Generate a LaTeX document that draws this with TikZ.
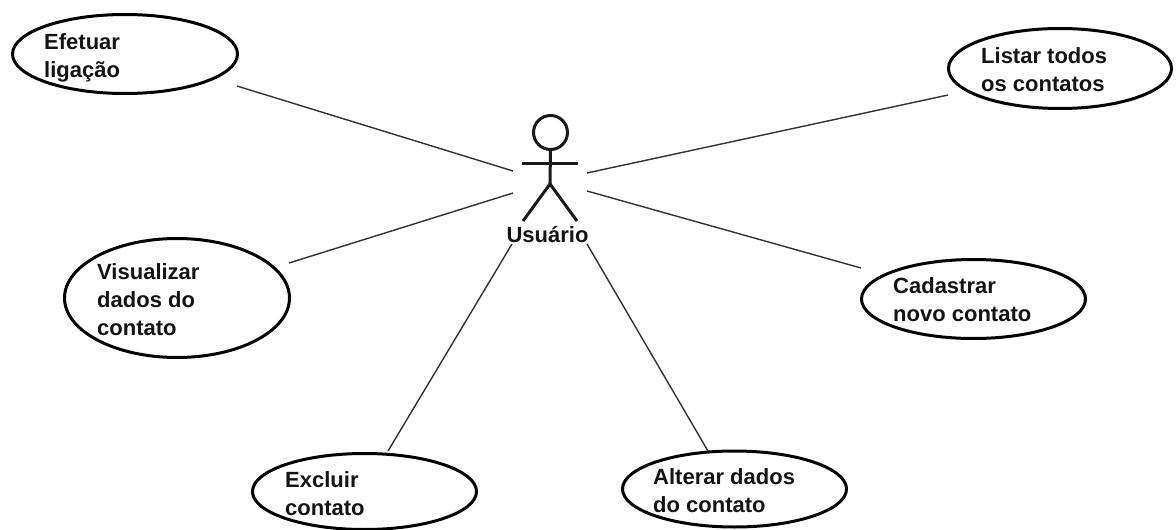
\documentclass[tikz,border=0pt]{standalone}
\usepackage{fontspec}
\setmainfont{Liberation Sans}
\usetikzlibrary{shapes.geometric}
\tikzset{
 usecase/.style={ellipse,draw=black,line width=3pt,inner sep=0pt,outer sep=0pt},
 lbl/.style={font=\fontsize{22pt}{28pt}\selectfont\bfseries,align=left,anchor=north west,inner sep=0pt,text=black!92},
 assoc/.style={draw=black!80,line width=1.4pt},
 actor/.style={draw=black!90,line width=3pt}
}
\begin{document}
\begin{tikzpicture}[x=1pt,y=-1pt]
\useasboundingbox (0,0) rectangle (1176,530);
\node[usecase,minimum width=225pt,minimum height=79pt] (efetuar) at (125,54) {};
\node[usecase,minimum width=223pt,minimum height=80pt] (listar) at (1060,68.5) {};
\node[usecase,minimum width=225pt,minimum height=119pt] (visualizar) at (177,298) {};
\node[usecase,minimum width=224pt,minimum height=79pt] (cadastrar) at (973.5,299) {};
\node[usecase,minimum width=224pt,minimum height=76pt] (excluir) at (364.5,491.5) {};
\node[usecase,minimum width=224pt,minimum height=76pt] (alterar) at (734.5,489) {};
\node[lbl] (t1) at (44,33) {Efetuar\\ligação};
\node[lbl] (t2) at (981,47) {Listar todos\\os contatos};
\node[lbl] (t3) at (97,263) {Visualizar\\dados do\\contato};
\node[lbl] (t4) at (893,277) {Cadastrar\\novo contato};
\node[lbl] (t5) at (285,471) {Excluir\\contato};
\node[lbl] (t6) at (653,468) {Alterar dados\\do contato};
\node[draw=black!90,circle,line width=3pt,inner sep=0pt,outer sep=0pt,minimum size=34pt] (head) at (550.5,132.5) {};
\coordinate (hip) at (550,184);
\coordinate (armL) at (522,163);
\coordinate (armR) at (578,163);
\coordinate (footL) at (523,221);
\coordinate (footR) at (577,221);
\draw[actor] (head.south) -- (hip);
\draw[actor] (armL) -- (armR);
\draw[actor] (footL) -- (hip) -- (footR);
\node[lbl,anchor=center] (usuario) at (547.5,235) {Usuário};
\coordinate (a1) at (513,171);
\coordinate (e1) at (237,86);
\coordinate (a2) at (587,173);
\coordinate (e2) at (948,95);
\coordinate (a3) at (513,193);
\coordinate (e3) at (289,263);
\coordinate (a4) at (587,191);
\coordinate (e4) at (861,268);
\coordinate (a5) at (512,244);
\coordinate (e5) at (388,451);
\coordinate (a6) at (587,244);
\coordinate (e6) at (708,451);
\draw[assoc] (a1)--(e1);
\draw[assoc] (a2)--(e2);
\draw[assoc] (a3)--(e3);
\draw[assoc] (a4)--(e4);
\draw[assoc] (a5)--(e5);
\draw[assoc] (a6)--(e6);
\end{tikzpicture}
\end{document}
